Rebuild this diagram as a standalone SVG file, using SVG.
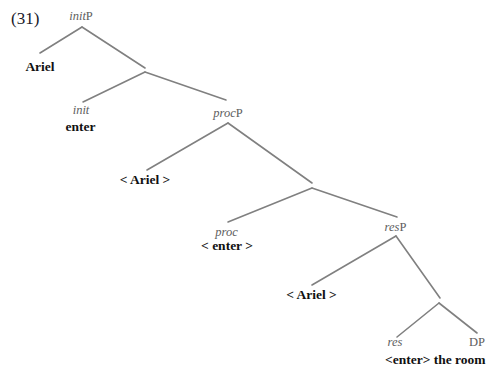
<svg xmlns="http://www.w3.org/2000/svg" width="490" height="369" viewBox="0 0 490 369">
  <style>
    text { font-family: "Liberation Serif", "Times New Roman", serif; }
    .cat { font-size: 12.5px; fill: #5e5e5e; text-anchor: middle; }
    .cat tspan.i { font-style: italic; }
    .word { font-size: 13.5px; font-weight: bold; fill: #111; text-anchor: middle; }
    .num { font-size: 17px; fill: #1a1a2a; }
    .edges line { stroke: #808080; stroke-width: 1.6; stroke-linecap: round; }
  </style>
  <rect width="490" height="369" fill="#fff"/>

  <text class="num" x="11" y="24">(31)</text>

  <!-- tree branches -->
  <g class="edges" id="connectors">
    <line x1="82" y1="27" x2="40" y2="53"/>
    <line x1="82" y1="27" x2="145" y2="68"/>
    <line x1="145" y1="72" x2="83" y2="102"/>
    <line x1="145" y1="72" x2="226" y2="100"/>
    <line x1="228" y1="123" x2="147" y2="170"/>
    <line x1="228" y1="123" x2="312" y2="183"/>
    <line x1="312" y1="188" x2="228" y2="222"/>
    <line x1="312" y1="188" x2="397" y2="217"/>
    <line x1="396" y1="236" x2="312" y2="285"/>
    <line x1="396" y1="236" x2="440" y2="298"/>
    <line x1="439" y1="303" x2="397" y2="337"/>
    <line x1="439" y1="303" x2="477" y2="333"/>
  </g>

  <g id="initP"><text class="cat" x="81" y="20"><tspan class="i">init</tspan>P</text></g>
  <g id="spec-init"><text class="word" x="40" y="71">Ariel</text></g>
  <g id="init"><text class="cat" x="81" y="114"><tspan class="i">init</tspan></text>
    <text class="word" x="80.5" y="131">enter</text></g>
  <g id="procP"><text class="cat" x="228" y="117"><tspan class="i">proc</tspan>P</text></g>
  <g id="spec-proc"><text class="word" x="145" y="184">&lt; Ariel &gt;</text></g>
  <g id="proc"><text class="cat" x="226.5" y="235.5"><tspan class="i">proc</tspan></text>
    <text class="word" x="227" y="250">&lt; enter &gt;</text></g>
  <g id="resP"><text class="cat" x="395.5" y="231"><tspan class="i">res</tspan>P</text></g>
  <g id="spec-res"><text class="word" x="311.5" y="299">&lt; Ariel &gt;</text></g>
  <g id="res"><text class="cat" x="395" y="346"><tspan class="i">res</tspan></text></g>
  <g id="DP"><text class="cat" x="477" y="346">DP</text></g>
  <g id="complement"><text class="word" x="385" y="364" style="text-anchor:start">&lt;enter&gt; the room</text></g>
</svg>
